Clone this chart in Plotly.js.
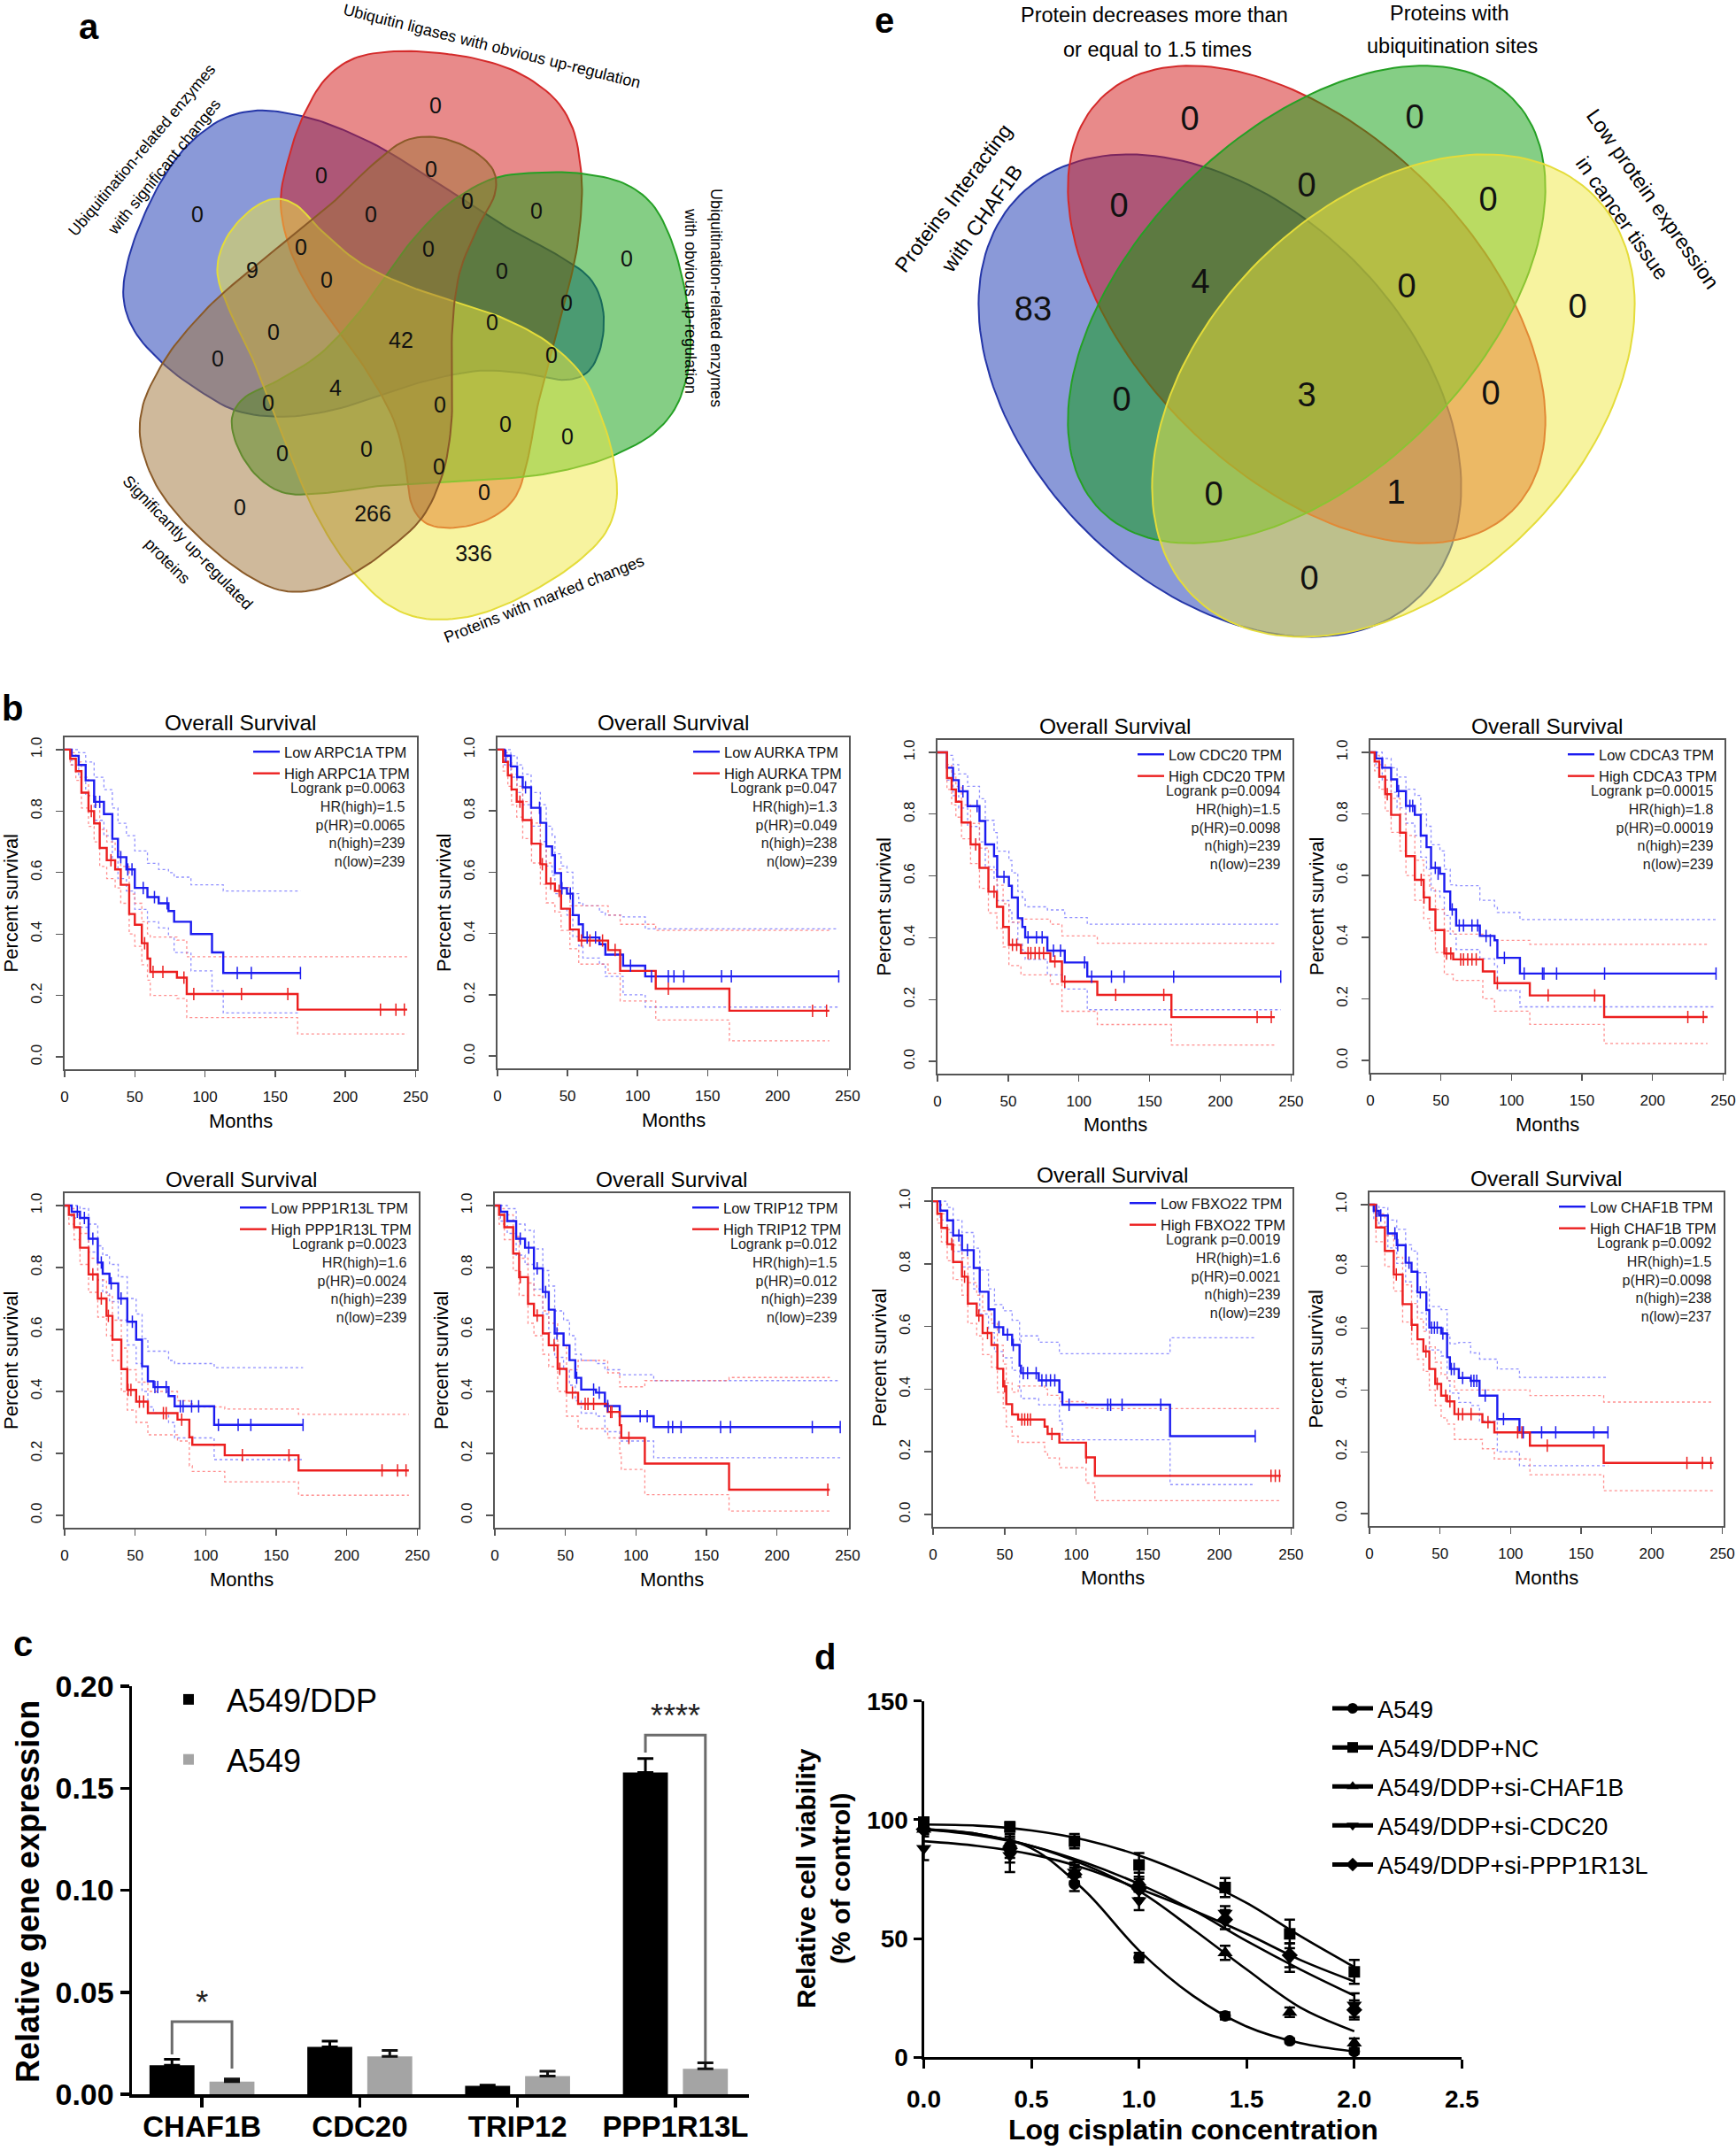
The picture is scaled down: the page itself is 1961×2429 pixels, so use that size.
<!DOCTYPE html>
<html><head><meta charset="utf-8">
<script src="https://cdn.plot.ly/plotly-3.0.1.min.js"></script>
<style>html,body{margin:0;padding:0;background:#fff}#chart{width:1961px;height:2429px}</style>
</head><body><div id="chart"></div>
<script>
// ================= DATA =================
// ---- Panel a: five-set Venn counts (31 regions) ----
const vennA_sets = ["Ubiquitin ligases with obvious up-regulation","Ubiquitination-related enzymes with obvious up-regulation","Proteins with marked changes","Significantly up-regulated proteins","Ubiquitination-related enzymes with significant changes"];
const vennA_counts = [0,0,0,0,0,0,0,0,9,0,0,0,0,0,0,42,0,0,0,4,0,0,0,0,0,0,0,0,0,266,336];
// ---- Panel e: four-set Venn counts (15 regions) ----
const vennE_sets = ["Proteins Interacting with CHAF1B","Protein decreases more than or equal to 1.5 times","Proteins with ubiquitination sites","Low protein expression in cancer tissue"];
const vennE_counts = [0,0,0,0,0,83,4,0,0,0,3,0,0,1,0];

// ---- Panel b: Kaplan-Meier curves ----
const kmGenes   = ["ARPC1A","AURKA","CDC20","CDCA3","PPP1R13L","TRIP12","FBXO22","CHAF1B"];
const kmLogrank = ["0.0063","0.047","0.0094","0.00015","0.0023","0.012","0.0019","0.0092"];
const kmHR      = ["1.5","1.3","1.5","1.8","1.6","1.5","1.6","1.5"];
const kmPHR     = ["0.0065","0.049","0.0098","0.00019","0.0024","0.012","0.0021","0.0098"];
const kmNHigh   = [239,238,239,239,239,239,239,238];
const kmNLow    = [239,239,239,239,239,239,239,237];

const ARPC1A_lowT  = [0,5,10,15,21,28,34,38,44,50,59,67,74,78,90,105,113,168];
const ARPC1A_lowS  = [1,0.98,0.95,0.90,0.83,0.79,0.71,0.65,0.61,0.55,0.52,0.50,0.475,0.44,0.40,0.34,0.273,0.273];
const ARPC1A_lowUp = [1,1,0.99,0.96,0.91,0.87,0.81,0.76,0.72,0.67,0.63,0.61,0.60,0.585,0.56,0.56,0.54,0.54];
const ARPC1A_lowLo = [1,0.95,0.91,0.85,0.77,0.72,0.64,0.58,0.54,0.48,0.44,0.42,0.39,0.34,0.28,0.215,0.143,0.143];
const ARPC1A_lowCT = [22,25,40,45,48,56,64,73,123,133,168];
const ARPC1A_lowCS = [0.83,0.83,0.65,0.61,0.61,0.55,0.52,0.50,0.273,0.273,0.273];
const ARPC1A_highT  = [0,4,8,12,17,21,25,30,36,40,46,50,55,59,61,80,87,166,244];
const ARPC1A_highS  = [1,0.97,0.93,0.86,0.80,0.76,0.68,0.64,0.61,0.56,0.465,0.43,0.37,0.32,0.277,0.258,0.205,0.154,0.154];
const ARPC1A_highUp = [1,0.99,0.96,0.91,0.85,0.82,0.74,0.70,0.67,0.62,0.53,0.50,0.44,0.40,0.39,0.38,0.326,0.326,0.326];
const ARPC1A_highLo = [1,0.95,0.90,0.81,0.75,0.70,0.62,0.58,0.55,0.50,0.40,0.36,0.30,0.25,0.20,0.19,0.128,0.075,0.075];
const ARPC1A_highCT = [19,33,57,63,70,85,92,126,159,225,236,242];
const ARPC1A_highCS = [0.80,0.64,0.37,0.277,0.277,0.258,0.205,0.205,0.205,0.154,0.154,0.154];

const AURKA_lowT  = [0,5,9.5,14,18,24,30.6,34.8,39,41,45.4,49.6,53.8,58,61,72.8,77,89.7,105.5,243.7];
const AURKA_lowS  = [1,0.98,0.945,0.91,0.877,0.81,0.761,0.684,0.655,0.597,0.548,0.53,0.46,0.43,0.387,0.365,0.331,0.295,0.26,0.26];
const AURKA_lowUp = [1,1,0.98,0.95,0.92,0.86,0.82,0.75,0.72,0.66,0.62,0.60,0.53,0.50,0.49,0.47,0.46,0.454,0.415,0.415];
const AURKA_lowLo = [1,0.95,0.91,0.86,0.82,0.75,0.70,0.62,0.59,0.53,0.48,0.46,0.39,0.36,0.32,0.30,0.26,0.20,0.16,0.16];
const AURKA_lowCT = [6,20,30,46,52,64,70,95,110,122,126,133,160,167,243.7];
const AURKA_lowCS = [0.98,0.877,0.81,0.548,0.53,0.387,0.387,0.295,0.26,0.26,0.26,0.26,0.26,0.26,0.26];
const AURKA_highT  = [0,4,7.4,10,13.7,18,24.3,30.6,34.8,41,45.4,51.7,58,79,87.6,113,165.6,237];
const AURKA_highS  = [1,0.96,0.916,0.87,0.83,0.77,0.693,0.626,0.563,0.539,0.481,0.413,0.377,0.346,0.278,0.22,0.148,0.148];
const AURKA_highUp = [1,0.99,0.96,0.92,0.88,0.83,0.76,0.69,0.63,0.61,0.55,0.49,0.49,0.46,0.43,0.41,0.41,0.41];
const AURKA_highLo = [1,0.93,0.88,0.82,0.78,0.71,0.63,0.56,0.50,0.47,0.41,0.35,0.30,0.27,0.18,0.118,0.05,0.05];
const AURKA_highCT = [16,32,38,44,60,66,75,84,122,225,235];
const AURKA_highCS = [0.83,0.626,0.563,0.539,0.377,0.377,0.377,0.346,0.22,0.148,0.148];

const CDC20_lowT  = [0,6.7,11,15,21.3,29.7,33.8,40,42.2,50.5,52.6,56.8,60,62,77.7,90,105.9,242.7];
const CDC20_lowS  = [1,0.95,0.91,0.874,0.826,0.778,0.702,0.664,0.597,0.568,0.53,0.463,0.435,0.401,0.358,0.32,0.274,0.274];
const CDC20_lowUp = [1,0.99,0.96,0.93,0.89,0.85,0.78,0.74,0.68,0.65,0.61,0.55,0.53,0.50,0.49,0.465,0.444,0.444];
const CDC20_lowLo = [1,0.91,0.86,0.82,0.76,0.71,0.63,0.59,0.52,0.49,0.45,0.38,0.36,0.33,0.28,0.234,0.167,0.167];
const CDC20_lowCT = [18,28,47,64,70,74,82,87,104,109,123,132,167,242.7];
const CDC20_lowCS = [0.874,0.826,0.597,0.401,0.401,0.401,0.358,0.358,0.32,0.274,0.274,0.274,0.274,0.274];
const CDC20_highT  = [0,6.7,10,13,17,23.4,29.7,36,42,46.4,50.5,59,79.8,88,113,165.4,238.5];
const CDC20_highS  = [1,0.917,0.88,0.84,0.773,0.702,0.626,0.549,0.50,0.435,0.377,0.35,0.323,0.258,0.215,0.143,0.143];
const CDC20_highUp = [1,0.96,0.93,0.89,0.83,0.77,0.69,0.62,0.57,0.51,0.45,0.46,0.444,0.406,0.382,0.382,0.382];
const CDC20_highLo = [1,0.88,0.83,0.79,0.72,0.64,0.56,0.48,0.43,0.37,0.31,0.28,0.25,0.162,0.119,0.053,0.053];
const CDC20_highCT = [27,40,53,56,64,66,69,72,75,83,90,126,160,226,236];
const CDC20_highCS = [0.702,0.549,0.377,0.377,0.35,0.35,0.35,0.35,0.35,0.323,0.258,0.215,0.215,0.143,0.143];

const CDCA3_lowT  = [0,4,8.4,14.7,18.9,25.2,31.5,35.7,39.8,43,49.3,52.4,56.6,60.8,77.6,88,90,106,245];
const CDCA3_lowS  = [1,0.98,0.95,0.912,0.874,0.826,0.797,0.73,0.692,0.625,0.606,0.548,0.49,0.438,0.404,0.39,0.333,0.282,0.282];
const CDCA3_lowUp = [1,1,0.98,0.95,0.92,0.88,0.86,0.80,0.76,0.70,0.68,0.62,0.57,0.567,0.52,0.50,0.48,0.457,0.457];
const CDCA3_lowLo = [1,0.95,0.91,0.87,0.82,0.77,0.73,0.66,0.62,0.55,0.53,0.47,0.41,0.36,0.33,0.31,0.227,0.174,0.174];
const CDCA3_lowCT = [20,28,30,46,48,58,63,66,72,76,82,85,95,109,122,123,132,166,245];
const CDCA3_lowCS = [0.874,0.826,0.826,0.625,0.606,0.49,0.438,0.438,0.438,0.438,0.404,0.39,0.333,0.282,0.282,0.282,0.282,0.282,0.282];
const CDCA3_highT  = [0,3,6.3,10.5,14.7,21,25.2,31.5,37.8,42,46.1,52.4,58.7,79.7,88,113,165.7,239];
const CDCA3_highS  = [1,0.97,0.921,0.864,0.797,0.739,0.663,0.586,0.529,0.49,0.423,0.347,0.328,0.289,0.251,0.211,0.141,0.141];
const CDCA3_highUp = [1,0.99,0.96,0.91,0.85,0.80,0.73,0.65,0.60,0.56,0.49,0.42,0.41,0.404,0.39,0.377,0.377,0.377];
const CDCA3_highLo = [1,0.94,0.88,0.81,0.74,0.68,0.60,0.52,0.46,0.42,0.35,0.28,0.26,0.20,0.16,0.117,0.055,0.055];
const CDCA3_highCT = [12,36,38,54,57,64,66,69,72,75,90,126,159,225,236];
const CDCA3_highCS = [0.864,0.586,0.529,0.347,0.347,0.328,0.328,0.328,0.328,0.328,0.251,0.211,0.211,0.141,0.141];

const PPP1R13L_lowT  = [0,5,10.9,17,23.5,27,31.8,38,44.4,50.7,54.9,59,63,73.7,78,106,169];
const PPP1R13L_lowS  = [1,0.98,0.96,0.893,0.816,0.78,0.749,0.70,0.625,0.567,0.481,0.433,0.414,0.385,0.352,0.292,0.292];
const PPP1R13L_lowUp = [1,1,0.99,0.94,0.87,0.84,0.81,0.77,0.70,0.65,0.57,0.53,0.53,0.50,0.49,0.477,0.477];
const PPP1R13L_lowLo = [1,0.96,0.93,0.85,0.76,0.72,0.69,0.63,0.55,0.49,0.40,0.35,0.33,0.30,0.25,0.18,0.18];
const PPP1R13L_lowCT = [9,14,20,26,33,40,48,64,66,72,82,84,90,95,109,123,132,169];
const PPP1R13L_lowCS = [0.98,0.96,0.893,0.816,0.749,0.70,0.625,0.414,0.414,0.414,0.352,0.352,0.352,0.352,0.292,0.292,0.292,0.292];
const PPP1R13L_highT  = [0,3,6.7,10.9,17,23.5,29.7,33.9,40.2,44.4,50.7,59,80,88.4,90.5,113.5,165.8,244];
const PPP1R13L_highS  = [1,0.97,0.93,0.864,0.778,0.70,0.644,0.567,0.472,0.405,0.367,0.33,0.309,0.252,0.228,0.194,0.145,0.145];
const PPP1R13L_highUp = [1,0.99,0.97,0.91,0.83,0.76,0.71,0.63,0.54,0.47,0.43,0.40,0.37,0.36,0.35,0.343,0.326,0.326];
const PPP1R13L_highLo = [1,0.94,0.89,0.81,0.72,0.64,0.58,0.50,0.40,0.34,0.30,0.26,0.24,0.16,0.142,0.108,0.065,0.065];
const PPP1R13L_highCT = [20,26,31,45,47,53,56,70,72,83,126,159,225,236,242];
const PPP1R13L_highCS = [0.778,0.70,0.644,0.405,0.405,0.367,0.367,0.33,0.33,0.309,0.194,0.194,0.145,0.145,0.145];

const TRIP12_lowT  = [0,4,8.8,15.1,21.4,27.7,34,38.2,42.4,48.7,52.9,57,61.2,71.7,78,88.5,112.6,244.8];
const TRIP12_lowS  = [1,0.98,0.95,0.893,0.864,0.797,0.721,0.664,0.587,0.549,0.501,0.444,0.406,0.396,0.353,0.32,0.285,0.285];
const TRIP12_lowUp = [1,1,0.99,0.94,0.92,0.86,0.79,0.74,0.66,0.63,0.58,0.52,0.50,0.49,0.47,0.454,0.435,0.435];
const TRIP12_lowLo = [1,0.95,0.91,0.84,0.81,0.73,0.65,0.59,0.51,0.47,0.42,0.37,0.33,0.32,0.27,0.24,0.186,0.186];
const TRIP12_lowCT = [18,24,30,36,44,58,70,74,80,103,108,123,126,132,160,167,225,244.8];
const TRIP12_lowCS = [0.893,0.864,0.797,0.721,0.587,0.444,0.406,0.396,0.353,0.32,0.32,0.285,0.285,0.285,0.285,0.285,0.285,0.285];
const TRIP12_highT  = [0,3,6.7,13,17.2,23.5,27.7,34,38.2,44.5,50.8,59,80,88.5,89.6,106.3,166,237.4];
const TRIP12_highS  = [1,0.97,0.93,0.845,0.769,0.683,0.645,0.587,0.549,0.473,0.396,0.36,0.334,0.291,0.25,0.167,0.083,0.083];
const TRIP12_highUp = [1,0.99,0.97,0.90,0.83,0.75,0.71,0.66,0.62,0.55,0.47,0.50,0.46,0.415,0.415,0.435,0.445,0.445];
const TRIP12_highLo = [1,0.94,0.89,0.79,0.71,0.62,0.58,0.52,0.48,0.40,0.32,0.28,0.25,0.20,0.148,0.067,0.014,0.014];
const TRIP12_highCT = [18,30,42,46,55,64,66,70,82,83,95,236];
const TRIP12_highCS = [0.769,0.645,0.549,0.473,0.396,0.36,0.36,0.36,0.334,0.334,0.25,0.083];

const FBXO22_lowT  = [0,5,9.9,14,20.2,28.4,32.6,38.7,42.9,49,55.2,60.4,61.4,73.8,88.2,90.3,165.5,225];
const FBXO22_lowS  = [1,0.97,0.939,0.891,0.844,0.787,0.711,0.655,0.598,0.574,0.541,0.475,0.451,0.428,0.39,0.35,0.25,0.25];
const FBXO22_lowUp = [1,1,0.98,0.94,0.90,0.85,0.78,0.72,0.67,0.65,0.62,0.55,0.57,0.55,0.513,0.513,0.564,0.564];
const FBXO22_lowLo = [1,0.94,0.90,0.84,0.79,0.72,0.64,0.58,0.52,0.50,0.46,0.40,0.37,0.35,0.30,0.238,0.095,0.095];
const FBXO22_lowCT = [18,24,46,52,56,63,66,72,76,79,82,85,95,122,124,132,159,225];
const FBXO22_lowCS = [0.891,0.844,0.598,0.574,0.541,0.451,0.451,0.451,0.428,0.428,0.428,0.428,0.35,0.35,0.35,0.35,0.35,0.25];
const FBXO22_highT  = [0,3,5.8,9.9,14,20.2,24.3,30.5,34.6,40.8,44.9,49,51.1,55.2,59.4,77.9,80,88.2,106.8,113,242.8];
const FBXO22_highS  = [1,0.96,0.915,0.863,0.806,0.759,0.673,0.635,0.579,0.541,0.465,0.409,0.352,0.319,0.303,0.28,0.257,0.229,0.182,0.123,0.123];
const FBXO22_highUp = [1,0.99,0.96,0.91,0.86,0.82,0.74,0.70,0.65,0.61,0.54,0.48,0.42,0.39,0.41,0.40,0.38,0.36,0.34,0.338,0.338];
const FBXO22_highLo = [1,0.93,0.87,0.81,0.75,0.70,0.61,0.57,0.51,0.47,0.39,0.34,0.28,0.25,0.23,0.20,0.18,0.149,0.10,0.044,0.044];
const FBXO22_highCT = [13,22,32,38,50,62,64,66,68,83,107,236,239,242];
const FBXO22_highCS = [0.863,0.759,0.635,0.579,0.409,0.303,0.303,0.303,0.303,0.257,0.182,0.123,0.123,0.123];

const CHAF1B_lowT  = [0,3,6.7,13,19.3,25.6,29.8,34,40.3,42.4,50.8,55,57,63.3,71.7,78,90.6,106.3,169];
const CHAF1B_lowS  = [1,0.98,0.965,0.907,0.869,0.812,0.783,0.716,0.659,0.602,0.583,0.506,0.468,0.439,0.43,0.382,0.306,0.263,0.263];
const CHAF1B_lowUp = [1,1,0.99,0.95,0.92,0.87,0.85,0.78,0.73,0.67,0.66,0.58,0.55,0.554,0.52,0.50,0.468,0.441,0.441];
const CHAF1B_lowLo = [1,0.95,0.93,0.86,0.81,0.75,0.72,0.65,0.59,0.53,0.51,0.43,0.39,0.36,0.35,0.30,0.20,0.155,0.155];
const CHAF1B_lowCT = [5,8,18,20,28,36,44,46,48,52,58,60,66,72,74,76,82,95,109,122,132,159,169];
const CHAF1B_lowCS = [0.98,0.965,0.907,0.869,0.812,0.716,0.602,0.602,0.602,0.583,0.468,0.468,0.439,0.43,0.43,0.43,0.382,0.306,0.263,0.263,0.263,0.263,0.263];
const CHAF1B_highT  = [0,4.6,10.9,17.2,23.5,29.8,34,38.2,42.4,46.6,50.8,55,60.2,80,88.5,113.7,166,243.7];
const CHAF1B_highS  = [1,0.926,0.85,0.774,0.678,0.611,0.564,0.525,0.468,0.42,0.382,0.363,0.322,0.296,0.263,0.22,0.164,0.164];
const CHAF1B_highUp = [1,0.97,0.90,0.83,0.74,0.68,0.63,0.59,0.54,0.49,0.45,0.43,0.40,0.40,0.40,0.382,0.361,0.361];
const CHAF1B_highLo = [1,0.88,0.80,0.72,0.62,0.55,0.50,0.46,0.40,0.35,0.31,0.29,0.24,0.21,0.177,0.126,0.074,0.074];
const CHAF1B_highCT = [19,30,40,48,54,57,63,66,72,84,105,108,126,225,236,242];
const CHAF1B_highCS = [0.774,0.611,0.525,0.42,0.382,0.363,0.322,0.322,0.322,0.296,0.263,0.263,0.22,0.164,0.164,0.164];

// ---- Panel c: qPCR bars ----
const cGenes   = ["CHAF1B","CDC20","TRIP12","PPP1R13L"];
const cDDP     = [0.0142,0.0232,0.0041,0.1577];
const cDDPerr  = [0.0029,0.0028,0.0003,0.0068];
const cA549    = [0.0062,0.0185,0.0089,0.0125];
const cA549err = [0.0013,0.0030,0.0024,0.0029];
const cSigIdx   = [0,3];
const cSigLeft  = [0.0195,0.1675];
const cSigTop   = [0.0356,0.176];
const cSigRight = [0.0126,0.016];
const cSigLabel = ["*","****"];

// ---- Panel d: dose-response ----
const dNames = ["A549","A549/DDP+NC","A549/DDP+si-CHAF1B","A549/DDP+si-CDC20","A549/DDP+si-PPP1R13L"];
const dLogDose = [0,0.4,0.7,1.0,1.4,1.7,2.0];
const dA549   = [97,87,73,42,17.5,7,2.5];
const dNC     = [99,97,91,81,71.5,52,36];
const dCHAF1B = [96,90,77,73.7,44,19,6];
const dCDC20  = [88,85,78,66,60.7,42,22];
const dPPP    = [96,88,77,71,58,43,20];
const dA549err   = [2,3,3,2,1.5,1,1];
const dNCerr     = [2,2,3,5,4,6,5];
const dCHAF1Berr = [2,3,3,4,3,2,2];
const dCDC20err  = [5,7,4,4,3,6,5];
const dPPPerr    = [2,6,4,4,4,5,4];
const dFitX      = [0,0.25,0.5,0.75,1.0,1.25,1.5,1.75,2.0];
const dFitA549   = [96,94,88,70,45,26,13,6,2.5];
const dFitNC     = [98,97.5,95.5,91.5,85,76,65,51,38];
const dFitCHAF1B = [96,94,89,81,70,54,37,21,11];
const dFitCDC20  = [91,89,85.5,79.5,71,62,52,41,32];
const dFitPPP    = [96,93.5,89,82,73,62,49,37,26];

// ================= LAYOUT / DRAWING =================
const F = '"Liberation Sans", Arial, Helvetica, sans-serif';
const W = 1961, H = 2429;
const fx = p => p / W, fy = p => 1 - p / H;
const traces = [];
const ann = [];
const layout = {
  width: W, height: H, margin: {l:0, r:0, t:0, b:0},
  paper_bgcolor: '#fff', plot_bgcolor: 'rgba(0,0,0,0)',
  font: {family: F, color: '#000'},
  showlegend: true, barmode: 'group', bargap: 0.24, bargroupgap: 0.25,
  annotations: ann
};
function A(x, y, text, size, opts) {
  ann.push(Object.assign({xref:'paper', yref:'paper', x: fx(x), y: fy(y), text, showarrow:false,
    xanchor:'center', yanchor:'middle', font:{family:F, size, color:'#000'}}, opts || {}));
}

// ---------- Overlay axis in pixel units for the Venn diagrams ----------
layout.xaxis11 = {domain:[0,1], range:[0,W], visible:false, fixedrange:true, anchor:'y11'};
layout.yaxis11 = {domain:[0,1], range:[H,0], visible:false, fixedrange:true, anchor:'x11'};

function ellipsePts(cx, cy, a, b, ang) {
  const th = ang * Math.PI / 180, xs = [], ys = [];
  for (let i = 0; i <= 160; i++) {
    const t = 2 * Math.PI * i / 160, u = a * Math.cos(t), v = b * Math.sin(t);
    xs.push(cx + u * Math.cos(th) - v * Math.sin(th));
    ys.push(cy + u * Math.sin(th) + v * Math.cos(th));
  }
  return [xs, ys];
}
function smoothClosed(pts, seg) {
  const n = pts.length, xs = [], ys = [];
  for (let i = 0; i < n; i++) {
    const p0 = pts[(i - 1 + n) % n], p1 = pts[i], p2 = pts[(i + 1) % n], p3 = pts[(i + 2) % n];
    for (let s = 0; s < seg; s++) {
      const t = s / seg, t2 = t * t, t3 = t2 * t;
      const f = (a, b, c, d) => 0.5 * ((2 * b) + (-a + c) * t + (2 * a - 5 * b + 4 * c - d) * t2 + (-a + 3 * b - 3 * c + d) * t3);
      xs.push(f(p0[0], p1[0], p2[0], p3[0])); ys.push(f(p0[1], p1[1], p2[1], p3[1]));
    }
  }
  xs.push(xs[0]); ys.push(ys[0]);
  return [xs, ys];
}
function vennShape(xy, fill, line) {
  traces.push({type:'scatter', mode:'lines', x: xy[0], y: xy[1], xaxis:'x11', yaxis:'y11',
    fill:'toself', fillcolor: fill, line:{color: line, width: 2}, showlegend:false, hoverinfo:'skip'});
}

// Panel a geometry: one petal outline (pointing up), rotated by 72 deg steps
const VA_C = [455, 380];
const VA_BASE = [[-138,-153],[-128,-205],[-112,-250],[-88,-290],[-55,-314],[-10,-322],[42,-320],[90,-312],[132,-297],[170,-270],[192,-235],[201,-190],[202,-150],[196,-95],[182,-35],[166,25],[152,80],[142,135],[128,180],[100,205],[62,216],[28,212],[10,190],[4,150],[-10,95],[-40,40],[-75,-8],[-105,-52],[-128,-100]];
const VA_STYLE = { // rotation index, fill, line
  red:    [0, 'rgba(209,21,21,0.5)',  '#d42a2a'],
  green:  [1, 'rgba(11,157,11,0.5)',  '#25a025'],
  yellow: [2, 'rgba(239,231,63,0.5)', '#e4dc3a'],
  brown:  [3, 'rgba(160,115,55,0.5)', '#8a5a28'],
  blue:   [4, 'rgba(21,51,177,0.5)',  '#2536a8']
};
['blue','red','green','yellow','brown'].forEach(k => {
  const [r, fill, line] = VA_STYLE[k];
  const th = r * 72 * Math.PI / 180;
  const pts = VA_BASE.map(p => [VA_C[0] + p[0] * Math.cos(th) - p[1] * Math.sin(th), VA_C[1] + p[0] * Math.sin(th) + p[1] * Math.cos(th)]);
  vennShape(smoothClosed(pts, 8), fill, line);
});
const VA_POS = [[492,122],[223,245],[363,201],[487,194],[419,245],[528,230],[606,241],[340,282],[285,308],[484,284],[567,309],[708,295],[369,319],[640,345],[309,378],[453,387],[556,367],[246,408],[623,404],[379,441],[303,458],[497,460],[571,482],[641,496],[319,515],[414,510],[496,530],[547,559],[271,576],[421,583],[535,628]];
traces.push({type:'scatter', mode:'text', x: VA_POS.map(p => p[0]), y: VA_POS.map(p => p[1]), xaxis:'x11', yaxis:'y11',
  text: vennA_counts.map(String), textfont:{family:F, size:25, color:'#111'}, textposition:'middle center', showlegend:false, hoverinfo:'skip'});

// Panel a set labels
A(555, 52, vennA_sets[0], 18, {textangle: 14});
A(809, 336, "Ubiquitination-related enzymes", 18, {textangle: 90});
A(780, 340, "with obvious up-regulation", 18, {textangle: 90});
A(614, 677, vennA_sets[2], 18, {textangle: -21.5});
A(212, 613, "Significantly up-regulated", 18, {textangle: 46});
A(189, 634, "proteins", 18, {textangle: 45});
A(160, 170, "Ubiquitination-related enzymes", 18, {textangle: -50});
A(185, 189, "with significant changes", 18, {textangle: -51});

// Panel e geometry: four ellipses
vennShape(ellipsePts(1378, 447, 320, 215, 45),  'rgba(21,51,177,0.5)',  '#2536a8');
vennShape(ellipsePts(1476, 344, 329, 193, 45),  'rgba(209,21,21,0.5)',  '#d42a2a');
vennShape(ellipsePts(1476, 344, 329, 193, -45), 'rgba(11,157,11,0.5)',  '#25a025');
vennShape(ellipsePts(1574, 447, 320, 215, -45), 'rgba(239,231,63,0.5)', '#e4dc3a');
const VE_POS = [[1344,137],[1598,135],[1264,235],[1476,212],[1681,228],[1167,352],[1356,321],[1589,326],[1782,349],[1267,454],[1476,449],[1684,447],[1371,561],[1577,559],[1479,656]];
traces.push({type:'scatter', mode:'text', x: VE_POS.map(p => p[0]), y: VE_POS.map(p => p[1]), xaxis:'x11', yaxis:'y11',
  text: vennE_counts.map(String), textfont:{family:F, size:38, color:'#111'}, textposition:'middle center', showlegend:false, hoverinfo:'skip'});
A(1304, 17, "Protein decreases more than", 23.5);
A(1307, 56, "or equal to 1.5 times", 23.5);
A(1637, 15, "Proteins with", 23.5);
A(1640, 52, "ubiquitination sites", 23.5);
A(1077, 224, "Proteins Interacting", 23.5, {textangle: -53});
A(1109, 247, "with CHAF1B", 23.5, {textangle: -55});
A(1867, 225, "Low protein expression", 23.5, {textangle: 55});
A(1832, 246, "in cancer tissue", 23.5, {textangle: 55});

// ---------- Panel b: KM plots ----------
const KM = [
 {lowT:ARPC1A_lowT,lowS:ARPC1A_lowS,lowUp:ARPC1A_lowUp,lowLo:ARPC1A_lowLo,lowCT:ARPC1A_lowCT,lowCS:ARPC1A_lowCS,highT:ARPC1A_highT,highS:ARPC1A_highS,highUp:ARPC1A_highUp,highLo:ARPC1A_highLo,highCT:ARPC1A_highCT,highCS:ARPC1A_highCS},
 {lowT:AURKA_lowT,lowS:AURKA_lowS,lowUp:AURKA_lowUp,lowLo:AURKA_lowLo,lowCT:AURKA_lowCT,lowCS:AURKA_lowCS,highT:AURKA_highT,highS:AURKA_highS,highUp:AURKA_highUp,highLo:AURKA_highLo,highCT:AURKA_highCT,highCS:AURKA_highCS},
 {lowT:CDC20_lowT,lowS:CDC20_lowS,lowUp:CDC20_lowUp,lowLo:CDC20_lowLo,lowCT:CDC20_lowCT,lowCS:CDC20_lowCS,highT:CDC20_highT,highS:CDC20_highS,highUp:CDC20_highUp,highLo:CDC20_highLo,highCT:CDC20_highCT,highCS:CDC20_highCS},
 {lowT:CDCA3_lowT,lowS:CDCA3_lowS,lowUp:CDCA3_lowUp,lowLo:CDCA3_lowLo,lowCT:CDCA3_lowCT,lowCS:CDCA3_lowCS,highT:CDCA3_highT,highS:CDCA3_highS,highUp:CDCA3_highUp,highLo:CDCA3_highLo,highCT:CDCA3_highCT,highCS:CDCA3_highCS},
 {lowT:PPP1R13L_lowT,lowS:PPP1R13L_lowS,lowUp:PPP1R13L_lowUp,lowLo:PPP1R13L_lowLo,lowCT:PPP1R13L_lowCT,lowCS:PPP1R13L_lowCS,highT:PPP1R13L_highT,highS:PPP1R13L_highS,highUp:PPP1R13L_highUp,highLo:PPP1R13L_highLo,highCT:PPP1R13L_highCT,highCS:PPP1R13L_highCS},
 {lowT:TRIP12_lowT,lowS:TRIP12_lowS,lowUp:TRIP12_lowUp,lowLo:TRIP12_lowLo,lowCT:TRIP12_lowCT,lowCS:TRIP12_lowCS,highT:TRIP12_highT,highS:TRIP12_highS,highUp:TRIP12_highUp,highLo:TRIP12_highLo,highCT:TRIP12_highCT,highCS:TRIP12_highCS},
 {lowT:FBXO22_lowT,lowS:FBXO22_lowS,lowUp:FBXO22_lowUp,lowLo:FBXO22_lowLo,lowCT:FBXO22_lowCT,lowCS:FBXO22_lowCS,highT:FBXO22_highT,highS:FBXO22_highS,highUp:FBXO22_highUp,highLo:FBXO22_highLo,highCT:FBXO22_highCT,highCS:FBXO22_highCS},
 {lowT:CHAF1B_lowT,lowS:CHAF1B_lowS,lowUp:CHAF1B_lowUp,lowLo:CHAF1B_lowLo,lowCT:CHAF1B_lowCT,lowCS:CHAF1B_lowCS,highT:CHAF1B_highT,highS:CHAF1B_highS,highUp:CHAF1B_highUp,highLo:CHAF1B_highLo,highCT:CHAF1B_highCT,highCS:CHAF1B_highCS}
];
const KM_FRAMES = [[73,471,833,1208],[562,959,833,1207],[1059,1460,836,1213],[1548,1948,836,1212],[73,473,1348,1726],[559,959,1348,1726],[1054,1460,1343,1725],[1547,1947,1347,1724]];
const BLUE = '#1c1cf0', RED = '#ec1f1f', CIB = 'rgba(105,105,255,0.75)', CIR = 'rgba(255,105,105,0.75)';
KM.forEach((g, i) => {
  const [L, R, T, B] = KM_FRAMES[i];
  const xa = 'x' + (i + 1), ya = 'y' + (i + 1), lg = 'legend' + (i + 3);
  const ln = (x, y, color, width, dash, name, show) => ({type:'scatter', mode:'lines', x, y, xaxis:xa, yaxis:ya,
    line:{shape:'hv', color, width, dash}, name, showlegend:show, legend:lg, hoverinfo:'skip'});
  traces.push(ln(g.lowT, g.lowUp, CIB, 1.3, 'dot', '', false));
  traces.push(ln(g.lowT, g.lowLo, CIB, 1.3, 'dot', '', false));
  traces.push(ln(g.highT, g.highUp, CIR, 1.3, 'dot', '', false));
  traces.push(ln(g.highT, g.highLo, CIR, 1.3, 'dot', '', false));
  traces.push(ln(g.lowT, g.lowS, BLUE, 2.4, 'solid', 'Low ' + kmGenes[i] + ' TPM', true));
  traces.push(ln(g.highT, g.highS, RED, 2.4, 'solid', 'High ' + kmGenes[i] + ' TPM', true));
  const cm = (x, y, color) => ({type:'scatter', mode:'markers', x, y, xaxis:xa, yaxis:ya, showlegend:false, hoverinfo:'skip',
    marker:{symbol:'line-ns-open', size:10, color, line:{color, width:1.5}}});
  traces.push(cm(g.lowCT, g.lowCS, BLUE));
  traces.push(cm(g.highCT, g.highCS, RED));
  const axc = {showline:true, mirror:true, linecolor:'#555', linewidth:1.6, ticks:'outside', tickwidth:1.4, tickcolor:'#555',
    showgrid:false, zeroline:false, tickfont:{family:F, size:17, color:'#111'}, fixedrange:true};
  layout['xaxis' + (i + 1)] = Object.assign({domain:[fx(L), fx(R)], range:[0,251], anchor:ya, ticklen:7,
    tickvals:[0,50,100,150,200,250], ticklabelstandoff:8}, axc);
  layout['yaxis' + (i + 1)] = Object.assign({domain:[fy(B), fy(T)], range:[-0.04,1.04], anchor:xa, ticklen:8,
    tickvals:[0,0.2,0.4,0.6,0.8,1], ticktext:['0.0','0.2','0.4','0.6','0.8','1.0'], tickangle:-90, ticklabelstandoff:10}, axc);
  layout[lg] = {x: fx(R - 3), xanchor:'right', y: fy(T - 1), yanchor:'top', bgcolor:'rgba(0,0,0,0)', borderwidth:0,
    font:{family:F, size:16.5, color:'#111'}, itemwidth:30, traceorder:'normal', tracegroupgap:0};
  A((L + R) / 2, T - 16, 'Overall Survival', 24.5);
  A((L + R) / 2, B + 58, 'Months', 22);
  A(L - 61, (T + B) / 2, 'Percent survival', 22, {textangle: -90});
  A(R - 11, T + 47, ['Logrank p=' + kmLogrank[i], 'HR(high)=' + kmHR[i], 'p(HR)=' + kmPHR[i],
    'n(high)=' + kmNHigh[i], 'n(low)=' + kmNLow[i]].join('<br>'), 16, {xanchor:'right', yanchor:'top', align:'right', font:{family:F, size:16, color:'#222'}});
});

// ---------- Panel c ----------
const cX = cGenes.map((_, i) => i);
traces.push({type:'bar', x:cX, y:cDDP, xaxis:'x9', yaxis:'y9', name:'A549/DDP', legend:'legend', legendgroup:'c1',
  marker:{color:'#000'}, error_y:{type:'data', array:cDDPerr, arrayminus:cDDPerr.map(() => 0), symmetric:false, color:'#000', thickness:3, width:9}, hoverinfo:'skip'});
traces.push({type:'bar', x:cX, y:cA549, xaxis:'x9', yaxis:'y9', name:'A549', legend:'legend', legendgroup:'c2',
  marker:{color:'#a4a4a4'}, error_y:{type:'data', array:cA549err, arrayminus:cA549err.map(() => 0), symmetric:false, color:'#111', thickness:3, width:9}, hoverinfo:'skip'});
cSigIdx.forEach((k, j) => {
  traces.push({type:'scatter', mode:'lines', xaxis:'x9', yaxis:'y9', x:[k - 0.19, k - 0.19, k + 0.19, k + 0.19],
    y:[cSigLeft[j], cSigTop[j], cSigTop[j], cSigRight[j]], line:{color:'#6b6b6b', width:3}, showlegend:false, hoverinfo:'skip', cliponaxis:false});
});
traces.push({type:'scatter', mode:'text', xaxis:'x9', yaxis:'y9', x:cSigIdx, y:cSigTop, text:cSigLabel, textposition:'top center',
  textfont:{family:F, size:36, color:'#222'}, showlegend:false, hoverinfo:'skip', cliponaxis:false});
const boldAx = {showline:true, linecolor:'#000', linewidth:3.5, ticks:'outside', tickcolor:'#000', tickwidth:3.5,
  showgrid:false, zeroline:false, fixedrange:true};
layout.xaxis9 = Object.assign({domain:[fx(149), fx(846)], range:[-0.444, 3.466], anchor:'y9', tickvals:cX, ticktext:cGenes,
  ticklen:11, tickfont:{family:F, size:33, color:'#000', weight:'bold'}, ticklabelstandoff:-6}, boldAx);
layout.yaxis9 = Object.assign({domain:[fy(2366), fy(1905)], range:[0, 0.2], anchor:'x9', tickvals:[0,0.05,0.1,0.15,0.2],
  ticktext:['0.00','0.05','0.10','0.15','0.20'], ticklen:10, tickfont:{family:F, size:34, color:'#000', weight:'bold'}}, boldAx);
layout.legend = {x: fx(170), xanchor:'left', y: fy(1890), yanchor:'top', bgcolor:'rgba(0,0,0,0)', font:{family:F, size:36, color:'#000'},
  itemwidth:76, traceorder:'grouped', tracegroupgap:18};
A(31, 2137, 'Relative gene expression', 36, {textangle:-90, font:{family:F, size:36, color:'#000', weight:'bold'}});

// ---------- Panel d ----------
const dSeries = [
  [dA549, dA549err, dFitA549, 'circle', 13],
  [dNC, dNCerr, dFitNC, 'square', 13],
  [dCHAF1B, dCHAF1Berr, dFitCHAF1B, 'triangle-up', 15],
  [dCDC20, dCDC20err, dFitCDC20, 'triangle-down', 15],
  [dPPP, dPPPerr, dFitPPP, 'diamond', 14]
];
dSeries.forEach((s, i) => {
  const [y, e, fit, sym, sz] = s;
  // fitted curve; it also carries the legend entry (line + symbol glyph)
  traces.push({type:'scatter', mode:'lines+markers', x:dFitX, y:fit, xaxis:'x10', yaxis:'y10', name:dNames[i],
    legend:'legend2', legendgroup:'d' + i, line:{color:'#000', width:2.6, shape:'spline', smoothing:1},
    marker:{symbol:sym, size:0.01, color:'#000'}, hoverinfo:'skip', cliponaxis:false});
  traces.push({type:'scatter', mode:'markers', x:dLogDose, y, xaxis:'x10', yaxis:'y10', marker:{symbol:sym, size:sz, color:'#000'},
    error_y:{type:'data', array:e, color:'#000', thickness:2.5, width:6}, showlegend:false, hoverinfo:'skip', cliponaxis:false});
});
layout.xaxis10 = Object.assign({domain:[fx(1043.5), fx(1651.4)], range:[0, 2.5], anchor:'y10', tickvals:[0,0.5,1,1.5,2,2.5],
  ticktext:['0.0','0.5','1.0','1.5','2.0','2.5'], ticklen:10, tickfont:{family:F, size:28, color:'#000', weight:'bold'}, ticklabelstandoff:10}, boldAx, {linewidth:3, tickwidth:3});
layout.yaxis10 = Object.assign({domain:[fy(2324.4), fy(1921.7)], range:[0, 150], anchor:'x10', tickvals:[0,50,100,150],
  ticklen:9, tickfont:{family:F, size:28, color:'#000', weight:'bold'}}, boldAx, {linewidth:3, tickwidth:3});
layout.legend2 = {x: fx(1500), xanchor:'left', y: fy(1906), yanchor:'top', bgcolor:'rgba(0,0,0,0)', font:{family:F, size:27, color:'#000'},
  itemwidth:46, traceorder:'grouped', tracegroupgap:6, itemsizing:'constant'};
A(1348, 2406, 'Log cisplatin concentration', 32, {font:{family:F, size:32, color:'#000', weight:'bold'}});
A(930, 2122, 'Relative cell viability<br>(% of control)', 30, {textangle:-90, font:{family:F, size:30, color:'#000', weight:'bold'}});

// ---------- Panel letters ----------
[['a',100,30],['e',999,23],['b',14,800],['c',26,1857],['d',932,1872]].forEach(p =>
  A(p[1], p[2], p[0], 40, {font:{family:F, size:40, color:'#000', weight:'bold'}}));

Plotly.newPlot('chart', traces, layout, {staticPlot:true});
</script>
</body></html>
